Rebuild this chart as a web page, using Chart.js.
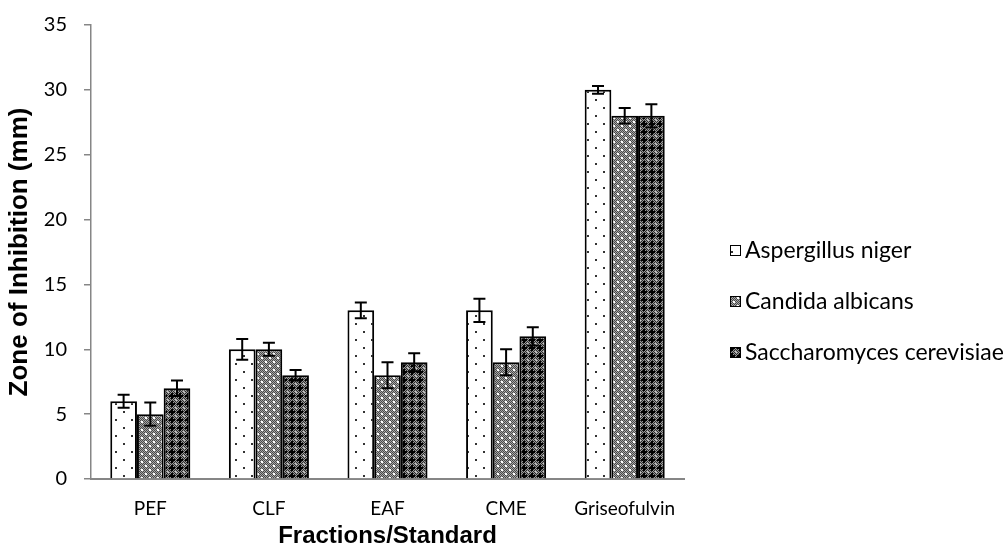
<!DOCTYPE html>
<html>
<head>
<meta charset="utf-8">
<script src="https://cdn.jsdelivr.net/npm/chart.js@4/dist/chart.umd.min.js"></script>
<style>
html,body{margin:0;padding:0;background:#fff;}
#wrap{width:1008px;height:555px;position:relative;}
</style>
</head>
<body>
<div id="wrap"><canvas id="c" width="1008" height="555"></canvas></div>
<script>
const categories = ["PEF", "CLF", "EAF", "CME", "Griseofulvin"];
const seriesNames = ["Aspergillus niger", "Candida albicans", "Saccharomyces cerevisiae"];
const aspergillus = [6, 10, 13, 13, 30];
const candida = [5, 10, 8, 9, 28];
const saccharomyces = [7, 8, 9, 11, 28];
const aspergillusErr = [0.5, 0.8, 0.6, 0.9, 0.3];
const candidaErr = [0.9, 0.5, 1.0, 1.0, 0.6];
const saccharomycesErr = [0.6, 0.4, 0.7, 0.7, 0.9];
const yTicks = [0, 5, 10, 15, 20, 25, 30, 35];

function makeTile(w, h, draw) {
  const c = document.createElement('canvas');
  c.width = w; c.height = h;
  const g = c.getContext('2d');
  draw(g);
  return document.getElementById('c').getContext('2d').createPattern(c, 'repeat');
}
const patDots = makeTile(16, 16, g => {
  g.fillStyle = '#fff'; g.fillRect(0, 0, 16, 16);
  g.fillStyle = '#333';
  g.fillRect(3, 3, 2, 2);
  g.fillRect(11, 11, 2, 2);
});
const patGrey = makeTile(8, 8, g => {
  for (let y = 0; y < 8; y++) for (let x = 0; x < 8; x++) {
    g.fillStyle = ((x + y) % 2 === 0) ? '#484848' : '#a8a8a8';
    g.fillRect(x, y, 1, 1);
  }
  g.fillStyle = '#fff';
  g.fillRect(1, 1, 2, 2);
  g.fillRect(5, 5, 2, 2);
});
const patDark = makeTile(8, 8, g => {
  for (let y = 0; y < 8; y++) for (let x = 0; x < 8; x++) {
    g.fillStyle = ((x + y) % 2 === 0) ? '#2a2a2a' : '#9a9a9a';
    g.fillRect(x, y, 1, 1);
  }
  g.fillStyle = '#000';
  g.fillRect(3, 1, 2, 6);
  g.fillRect(1, 3, 6, 2);
  g.fillStyle = '#c8c8c8';
  g.fillRect(0, 0, 1, 1);
  g.fillRect(7, 7, 1, 1);
});
const patterns = [patDots, patGrey, patDark];
const values = [aspergillus, candida, saccharomyces];
const errs = [aspergillusErr, candidaErr, saccharomycesErr];

const errorBars = {
  id: 'errorBars',
  afterDatasetsDraw(chart) {
    const ctx = chart.ctx, ys = chart.scales.y;
    ctx.save();
    ctx.strokeStyle = '#000';
    ctx.lineWidth = 2;
    chart.data.datasets.forEach((ds, i) => {
      const meta = chart.getDatasetMeta(i);
      meta.data.forEach((bar, j) => {
        const v = ds.data[j], e = errs[i][j];
        const x = bar.x;
        const yt = ys.getPixelForValue(v + e), yb = ys.getPixelForValue(v - e);
        ctx.beginPath();
        ctx.moveTo(x, yt); ctx.lineTo(x, yb);
        ctx.moveTo(x - 6, yt); ctx.lineTo(x + 6, yt);
        ctx.moveTo(x - 6, yb); ctx.lineTo(x + 6, yb);
        ctx.stroke();
      });
    });
    ctx.restore();
  }
};

const customLegend = {
  id: 'customLegend',
  afterDraw(chart) {
    const ctx = chart.ctx;
    ctx.save();
    ctx.font = '23px Lato, "Open Sans", sans-serif';
    ctx.textBaseline = 'middle';
    const rows = [250, 301, 352];
    chart.data.datasets.forEach((ds, i) => {
      const y = rows[i];
      ctx.fillStyle = patterns[i];
      ctx.fillRect(730, y - 5, 11, 11);
      ctx.strokeStyle = '#000';
      ctx.lineWidth = 1;
      ctx.strokeRect(730.5, y - 4.5, 10, 10);
      ctx.fillStyle = '#000';
      ctx.fillText(ds.label, 745, y + 1);
    });
    ctx.restore();
  }
};

new Chart(document.getElementById('c'), {
  type: 'bar',
  data: {
    labels: categories,
    datasets: seriesNames.map((n, i) => ({
      label: n,
      data: values[i],
      backgroundColor: patterns[i],
      borderColor: '#000',
      borderWidth: 2,
      borderSkipped: 'bottom',
      categoryPercentage: 0.675,
      barPercentage: 1.0
    }))
  },
  options: {
    responsive: false,
    animation: false,
    devicePixelRatio: 1,
    layout: { padding: { top: 25, right: 324, bottom: 0, left: 0 } },
    plugins: { legend: { display: false }, tooltip: { enabled: false } },
    scales: {
      x: {
        grid: { display: true, drawOnChartArea: false, drawTicks: false, color: '#868686' },
        border: { color: '#868686', width: 2 },
        ticks: { color: '#000', font: { family: 'Lato, "Open Sans", sans-serif', size: 19 }, padding: 18 },
        title: { display: true, text: 'Fractions/Standard', color: '#000',
                 font: { family: '"Liberation Sans", Arial, sans-serif', size: 24, weight: 'bold' }, padding: { top: 6 } },
        afterFit(s) { s.height = 76; s.paddingLeft = 0; s.paddingRight = 0; }
      },
      y: {
        min: 0, max: 35,
        afterBuildTicks(s) { s.ticks = yTicks.map(v => ({ value: v })); },
        grid: { display: true, drawOnChartArea: false, drawTicks: true, tickLength: 7, color: '#868686', lineWidth: 1.5 },
        border: { color: '#868686', width: 1.5 },
        ticks: { color: '#000', font: { family: 'Lato, "Open Sans", sans-serif', size: 20 }, padding: 17 },
        title: { display: true, text: 'Zone of Inhibition (mm)', color: '#000',
                 font: { family: '"Liberation Sans", Arial, sans-serif', size: 26, weight: 'bold' }, padding: { top: 4, bottom: 0 } },
        afterFit(s) { s.width = 91; s.paddingTop = 0; s.paddingBottom = 0; }
      }
    }
  },
  plugins: [errorBars, customLegend]
});
</script>
</body>
</html>
